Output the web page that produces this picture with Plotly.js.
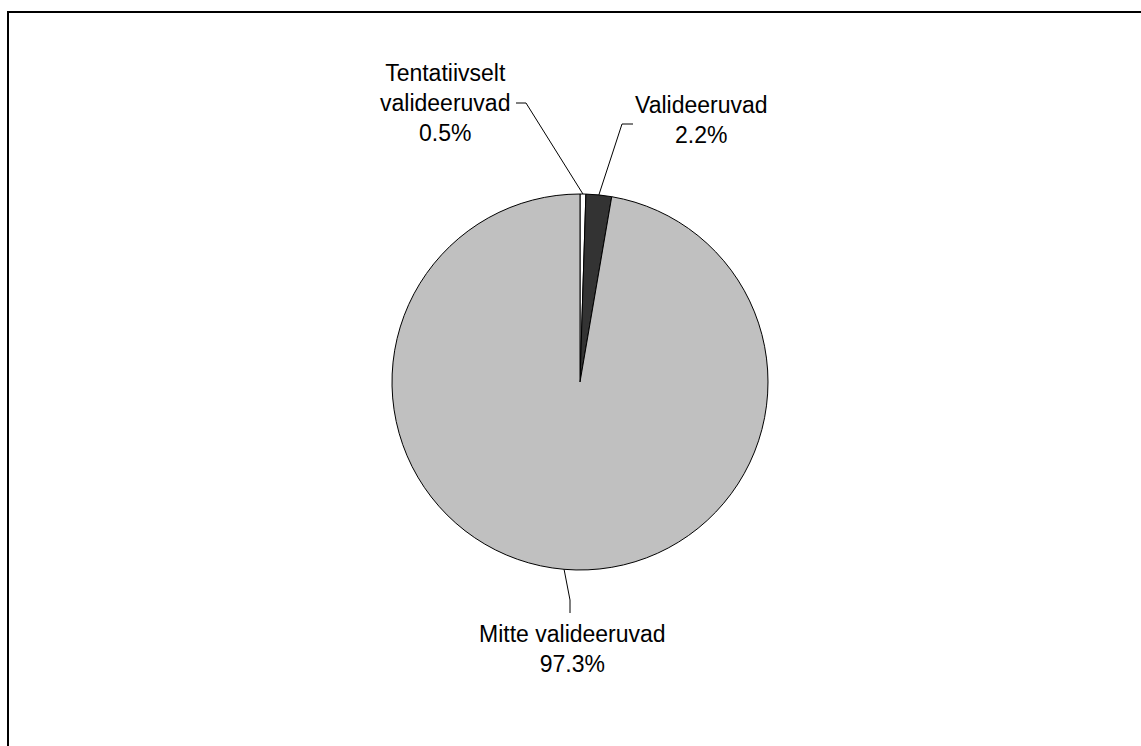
<!DOCTYPE html>
<html>
<head>
<meta charset="utf-8">
<script src="https://cdn.plot.ly/plotly-3.0.1.min.js"></script>
<style>html,body{margin:0;padding:0;background:#fff;overflow:hidden}</style>
</head>
<body>
<div id="chart" style="width:1141px;height:746px"></div>
<script>
const categories = ["Tentatiivselt validideeruvad", "Valideeruvad", "Mitte valideeruvad"];
const labelTexts = ["Tentatiivselt<br>valideeruvad<br>0.5%", "Valideeruvad<br>2.2%", "Mitte valideeruvad<br>97.3%"];
const values = [0.5, 2.2, 97.3];
const colors = ["#ffffff", "#333333", "#c0c0c0"];

const W = 1141, H = 746;
const cx = 580, cy = 382, R = 188;
const px = x => x / W;
const py = y => 1 - y / H;

// label block centres and leader paths (pixel layout)
const labelPos = [[445, 103], [701, 120], [572, 649]];
const leaderStart = [[[516, 103], [526, 103]], [[633, 124], [622, 124]], [[570, 613], [570, 600]]];

const total = values.reduce((a, b) => a + b, 0);
let cum = 0;
const shapes = [];
const annotations = [];
values.forEach((v, i) => {
  const mid = (cum + v / 2) / total * 2 * Math.PI;
  cum += v;
  const ex = cx + R * Math.sin(mid), ey = cy - R * Math.cos(mid);
  const pts = leaderStart[i].concat([[ex, ey]]);
  const path = pts.map((p, k) => (k ? "L" : "M") + px(p[0]) + "," + py(p[1])).join(" ");
  shapes.push({type: "path", xref: "paper", yref: "paper", path: path, line: {color: "#000", width: 1}});
  annotations.push({
    xref: "paper", yref: "paper", x: px(labelPos[i][0]), y: py(labelPos[i][1]),
    xanchor: "center", yanchor: "middle", showarrow: false, align: "center",
    text: labelTexts[i], font: {family: "Liberation Sans, Arial, sans-serif", size: 23, color: "#000"}
  });
});

// outer frame
shapes.push({type: "rect", xref: "paper", yref: "paper", x0: px(8), x1: px(1160), y0: py(780), y1: py(12),
  line: {color: "#000", width: 2}, fillcolor: "rgba(0,0,0,0)"});

const trace = {
  type: "pie",
  labels: categories,
  values: values,
  sort: false,
  direction: "clockwise",
  rotation: 0,
  textinfo: "none",
  hoverinfo: "label+percent",
  marker: {colors: colors, line: {color: "#000", width: 1}},
  domain: {x: [px(cx - R), px(cx + R)], y: [py(cy + R), py(cy - R)]},
  showlegend: false
};

Plotly.newPlot("chart", [trace], {
  width: W, height: H,
  margin: {l: 0, r: 0, t: 0, b: 0},
  paper_bgcolor: "#fff",
  showlegend: false,
  shapes: shapes,
  annotations: annotations
}, {displayModeBar: false, staticPlot: true});
</script>
</body>
</html>
